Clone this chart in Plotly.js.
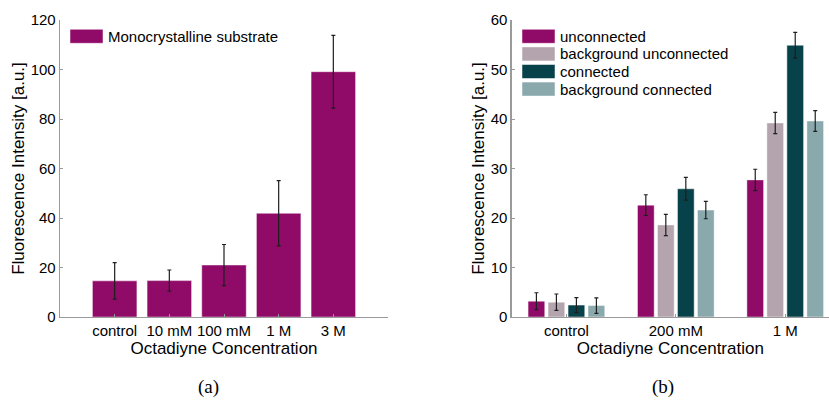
<!DOCTYPE html>
<html>
<head>
<meta charset="utf-8">
<script src="https://cdn.plot.ly/plotly-3.0.1.min.js"></script>
<style>
  html, body { margin: 0; padding: 0; background: #fff; }
  #chart { width: 829px; height: 400px; }
</style>
</head>
<body>
<div id="chart"></div>
<script>
// (a) Monocrystalline substrate
const concA = ['control', '10 mM', '100 mM', '1 M', '3 M'];
const intensityA = [14.6, 14.7, 21.0, 41.9, 99.1];
const errorA = [7.4, 4.3, 8.3, 13.2, 14.7];
const seriesA = 'Monocrystalline substrate';

// (b) connected vs. unconnected samples
const concB = ['control', '200 mM', '1 M'];
const namesB = ['unconnected', 'background unconnected', 'connected', 'background connected'];
const unconnected = [3.2, 22.6, 27.7];
const unconnectedErr = [1.7, 2.1, 2.15];
const bgUnconnected = [3.0, 18.6, 39.2];
const bgUnconnectedErr = [1.65, 2.15, 2.15];
const connected = [2.4, 25.9, 54.9];
const connectedErr = [1.5, 2.3, 2.6];
const bgConnected = [2.3, 21.6, 39.6];
const bgConnectedErr = [1.55, 1.75, 2.1];

const colorsB = ['#900a67', '#b3a4ae', '#07414a', '#8aa9ad'];
const valuesB = [unconnected, bgUnconnected, connected, bgConnected];
const errorsB = [unconnectedErr, bgUnconnectedErr, connectedErr, bgConnectedErr];

const W = 829, H = 400;
const M = { l: 0, r: 0, t: 20, b: 83 };
const plotH = H - M.t - M.b;
// pixel helpers for layout decorations
const px = x => x / W;
const py = y => (H - M.b - y) / plotH;

const font = 'Liberation Sans, Arial, sans-serif';
const errStyle = arr => ({ type: 'data', array: arr, visible: true, color: '#1e1e1e', thickness: 1.2, width: 2 });
const edge = { color: 'rgba(255,255,255,0.45)', width: 1 };

const traces = [{
  type: 'bar', x: concA, y: intensityA, name: seriesA,
  xaxis: 'x', yaxis: 'y', width: 0.814,
  marker: { color: colorsB[0], line: edge },
  error_y: errStyle(errorA), showlegend: false
}];
namesB.forEach((n, i) => traces.push({
  type: 'bar', x: concB, y: valuesB[i], name: n,
  xaxis: 'x2', yaxis: 'y2',
  marker: { color: colorsB[i], line: edge },
  error_y: errStyle(errorsB[i]), showlegend: false
}));

const axisCommon = {
  showgrid: false, zeroline: false, showline: true,
  linecolor: '#9a9a9a', linewidth: 1.3,
  ticks: 'inside', ticklen: 3, tickcolor: '#9a9a9a', tickwidth: 1,
  tickfont: { family: font, size: 15, color: '#000' },
  fixedrange: true
};
const titleFont = { family: font, size: 17, color: '#000' };

// hand-drawn legends: swatch rectangles + labels
const shapes = [];
const annotations = [];
function legendItem(x0, y0, color, label) {
  shapes.push({ type: 'rect', xref: 'paper', yref: 'paper',
    x0: px(x0), x1: px(x0 + 33), y0: py(y0), y1: py(y0 + 14),
    fillcolor: color, line: { width: 1, color: 'rgba(255,255,255,0.5)' } });
  annotations.push({ xref: 'paper', yref: 'paper', x: px(x0 + 36), y: py(y0 + 7),
    xanchor: 'left', yanchor: 'middle', showarrow: false, text: label,
    font: { family: font, size: 15, color: '#000' } });
}
legendItem(70, 29.3, colorsB[0], seriesA);
namesB.forEach((n, i) => legendItem(522, 29.3 + i * 17.6, colorsB[i], n));

// sub-figure captions
[['(a)', 208], ['(b)', 663]].forEach(([t, x]) => annotations.push({
  xref: 'paper', yref: 'paper', x: px(x), y: py(387), xanchor: 'center', yanchor: 'middle',
  showarrow: false, text: t, font: { family: 'Liberation Serif, DejaVu Serif, serif', size: 19, color: '#000' }
}));

const layout = {
  width: W, height: H, margin: M,
  paper_bgcolor: '#fff', plot_bgcolor: '#fff',
  barmode: 'group', bargap: 0.269, bargroupgap: 0.165,
  showlegend: false,
  xaxis: Object.assign({}, axisCommon, {
    domain: [px(60), px(388)], range: [-1, 5], type: 'category',
    title: { text: 'Octadiyne Concentration', font: titleFont, standoff: 1 }
  }),
  yaxis: Object.assign({}, axisCommon, {
    domain: [0, 1], range: [0, 120], dtick: 20, anchor: 'x',
    title: { text: 'Fluorescence Intensity [a.u.]', font: titleFont, standoff: 1 }
  }),
  xaxis2: Object.assign({}, axisCommon, {
    domain: [px(511.7), 1], range: [-0.5, 2.4], type: 'category', anchor: 'y2',
    title: { text: 'Octadiyne Concentration', font: titleFont, standoff: 1 }
  }),
  yaxis2: Object.assign({}, axisCommon, {
    domain: [0, 1], range: [0, 60], dtick: 10, anchor: 'x2',
    title: { text: 'Fluorescence Intensity [a.u.]', font: titleFont, standoff: 1 }
  }),
  shapes: shapes,
  annotations: annotations
};

Plotly.newPlot('chart', traces, layout, { displayModeBar: false, staticPlot: true });
</script>
</body>
</html>
